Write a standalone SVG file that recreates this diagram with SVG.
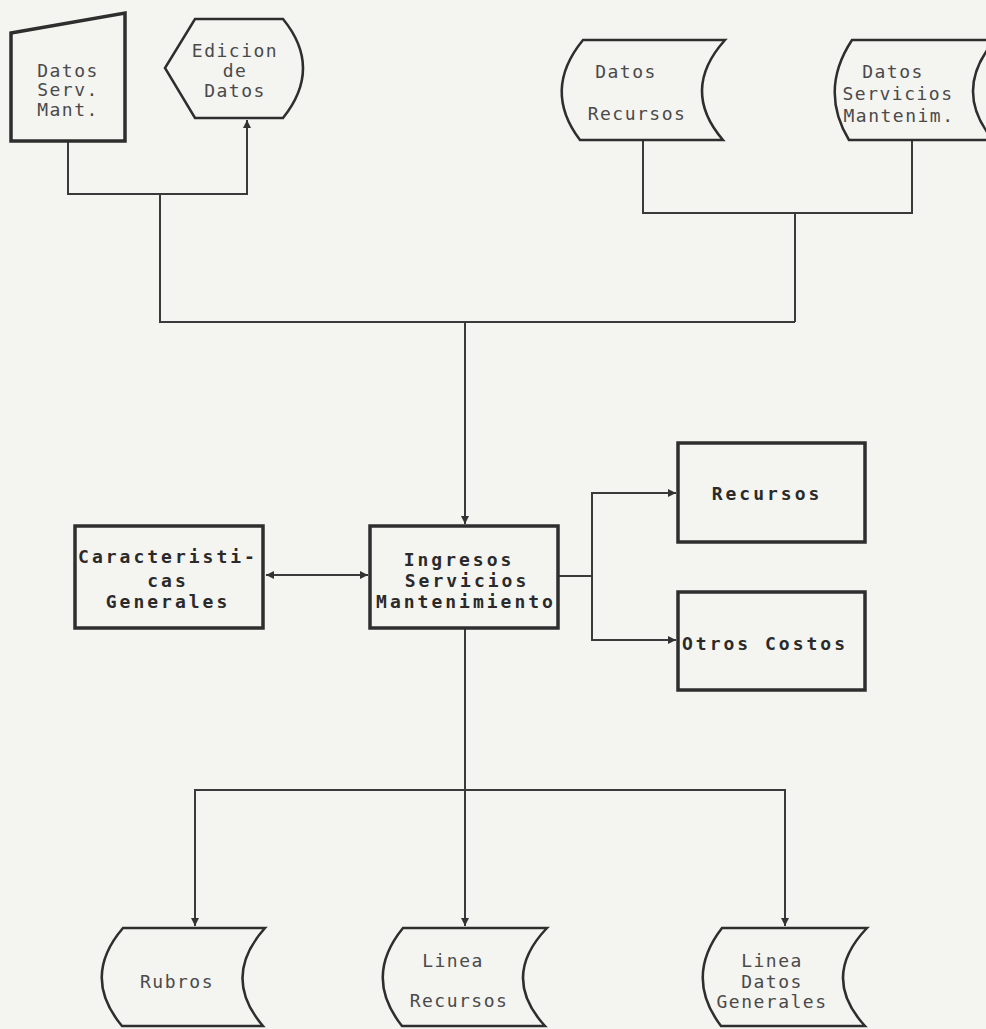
<svg xmlns="http://www.w3.org/2000/svg" width="986" height="1029" viewBox="0 0 986 1029">
<defs>
<marker id="arr" viewBox="0 0 10 10" refX="10" refY="5" markerWidth="8" markerHeight="9" markerUnits="userSpaceOnUse" orient="auto-start-reverse">
<path d="M0,0 L10,5 L0,10 Z" fill="#333"/>
</marker>
<style>
.shape{fill:none;stroke:#2e2e2e;stroke-width:3.5;stroke-linejoin:miter}
.thin{fill:none;stroke:#2e2e2e;stroke-width:2.5}
.conn{fill:none;stroke:#3a3a3a;stroke-width:2}
.t{font-family:"DejaVu Sans Mono","Liberation Mono",monospace;font-size:18px;fill:#4a4a4a;text-anchor:middle;letter-spacing:1.5px}
.b{font-family:"DejaVu Sans Mono","Liberation Mono",monospace;font-size:18px;font-weight:bold;fill:#2a2a2a;text-anchor:middle;letter-spacing:3px}
</style>
</defs>
<rect width="986" height="1029" fill="#f4f4f1"/>

<g id="connectors">
<polyline class="conn" points="68,141 68,194 247,194 247,120" marker-end="url(#arr)"/>
<polyline class="conn" points="160,194 160,322 795,322"/>
<polyline class="conn" points="643,141 643,213 912,213 912,141"/>
<polyline class="conn" points="795,213 795,322"/>
<polyline class="conn" points="465,322 465,524" marker-end="url(#arr)"/>
<polyline class="conn" points="266,575 368,575" marker-start="url(#arr)" marker-end="url(#arr)"/>
<polyline class="conn" points="558,576 592,576"/>
<polyline class="conn" points="676,493 592,493 592,640 676,640" marker-start="url(#arr)" marker-end="url(#arr)"/>
<polyline class="conn" points="465,628 465,790"/>
<polyline class="conn" points="195,926 195,790 785,790 785,926" marker-start="url(#arr)" marker-end="url(#arr)"/>
<polyline class="conn" points="465,790 465,926" marker-end="url(#arr)"/>
</g>

<g id="datos-serv-mant">
<polygon class="shape" points="11,33 125,13 125,141 11,141"/>
<text class="t" x="68" y="77">Datos</text>
<text class="t" x="68" y="96">Serv.</text>
<text class="t" x="68" y="116">Mant.</text>
</g>

<g id="edicion-datos">
<path class="thin" d="M195,19 L283,19 Q323,68 283,118 L195,118 L165,68 Z"/>
<text class="t" x="235" y="57">Edicion</text>
<text class="t" x="235" y="77">de</text>
<text class="t" x="235" y="97">Datos</text>
</g>

<g id="datos-recursos">
<path class="thin" d="M583,40 L725,40 Q680,90 723,140 L580,140 Q542,90 583,40 Z"/>
<text class="t" x="626" y="78">Datos</text>
<text class="t" x="637" y="120">Recursos</text>
</g>

<g id="datos-servicios-mantenim">
<path class="thin" d="M852,40 L995,40 Q952,90 993,140 L849,140 Q819,90 852,40 Z"/>
<text class="t" x="893" y="78">Datos</text>
<text class="t" x="898" y="100">Servicios</text>
<text class="t" x="899" y="122">Mantenim.</text>
</g>

<g id="caracteristicas-generales">
<rect class="shape" x="75" y="526" width="188" height="102"/>
<text class="b" x="168" y="563">Caracteristi-</text>
<text class="b" x="168" y="587">cas</text>
<text class="b" x="168" y="608">Generales</text>
</g>

<g id="ingresos-servicios-mantenimiento">
<rect class="shape" x="370" y="526" width="188" height="102"/>
<text class="b" x="459" y="566">Ingresos</text>
<text class="b" x="467" y="587">Servicios</text>
<text class="b" x="466" y="608">Mantenimiento</text>
</g>

<g id="recursos">
<rect class="shape" x="678" y="443" width="187" height="99"/>
<text class="b" x="767" y="500">Recursos</text>
</g>

<g id="otros-costos">
<rect class="shape" x="678" y="592" width="187" height="98"/>
<text class="b" x="765" y="650">Otros Costos</text>
</g>

<g id="rubros">
<path class="thin" d="M123,928 L265,928 Q221,977 263,1026 L122,1026 Q81,977 123,928 Z"/>
<text class="t" x="177" y="988">Rubros</text>
</g>

<g id="linea-recursos">
<path class="thin" d="M403,928 L547,928 Q500,977 545,1026 L402,1026 Q363,977 403,928 Z"/>
<text class="t" x="453" y="967">Linea</text>
<text class="t" x="459" y="1007">Recursos</text>
</g>

<g id="linea-datos-generales">
<path class="thin" d="M722,928 L867,928 Q820,977 865,1026 L721,1026 Q684,977 722,928 Z"/>
<text class="t" x="772" y="967">Linea</text>
<text class="t" x="772" y="988">Datos</text>
<text class="t" x="772" y="1008">Generales</text>
</g>
</svg>
